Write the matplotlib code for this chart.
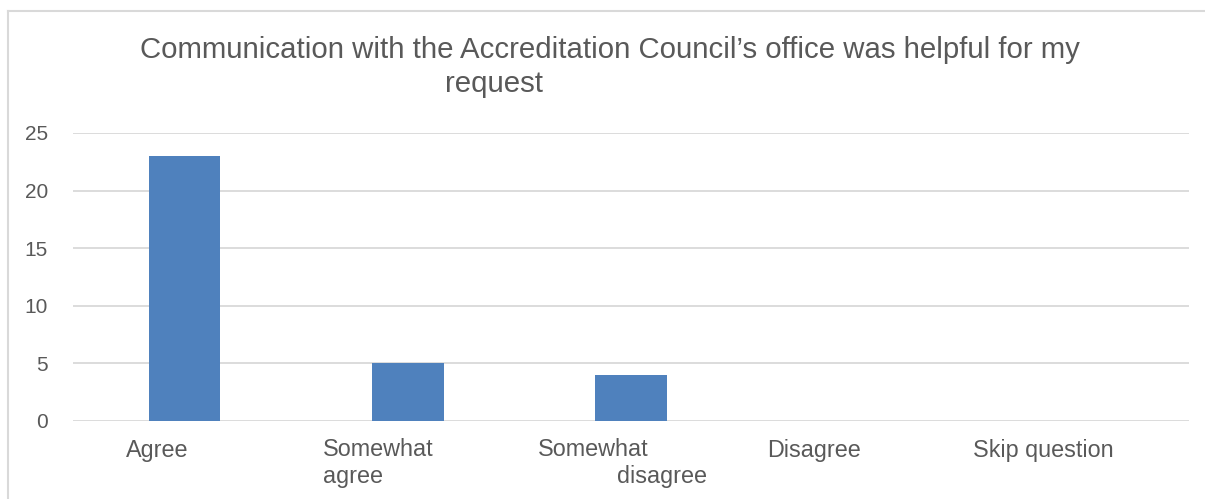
import matplotlib.pyplot as plt
import matplotlib.transforms as mtransforms
from matplotlib.lines import Line2D

plt.rcParams['font.family'] = ['Liberation Sans', 'DejaVu Sans']

categories = ["Agree", "Somewhat agree", "Somewhat disagree", "Disagree", "Skip question"]
counts = [23, 5, 4, 0, 0]
y_ticks = [0, 5, 10, 15, 20, 25]

# category labels as laid out under the axis: list of (text, x offset px, alignment) per line
label_layout = [
    [("Agree", -27, "center")],
    [("Somewhat", -85, "left"), ("agree", -85, "left")],
    [("Somewhat", -93, "left"), ("disagree", -14, "left")],
    [("Disagree", -40, "center")],
    [("Skip question", -34, "center")],
]

TEXT = "#595959"
GRID = "#d9d9d9"
BAR = "#4f81bd"

fig = plt.figure(figsize=(12.05, 4.99), dpi=100)
ax = fig.add_axes([73 / 1205, 1 - 421 / 499, (1189 - 73) / 1205, (421 - 133) / 499])

x = list(range(len(categories)))
ax.bar(x, counts, width=0.32, color=BAR, zorder=2)

ax.set_xlim(-0.5, len(categories) - 0.5)
ax.set_ylim(0, 25)
ax.set_yticks(y_ticks)
ax.yaxis.grid(True, color=GRID, linewidth=1.3, zorder=0)
ax.tick_params(axis="y", length=0, labelsize=15, labelcolor=TEXT, pad=18)
ax.set_xticks([])
for s in ax.spines.values():
    s.set_visible(False)

trans = ax.get_xaxis_transform()
for i, lines in enumerate(label_layout):
    for j, (line, dx, ha) in enumerate(lines):
        t = mtransforms.offset_copy(trans, fig=fig, x=dx, y=-29 - 27 * j, units="dots")
        ax.text(i, 0, line, transform=t, ha=ha, va="center", fontsize=16.8, color=TEXT)

fig.text(610 / 1205, 1 - 50 / 499,
         "Communication with the Accreditation Council\u2019s office was helpful for my",
         ha="center", va="center", fontsize=21.2, color=TEXT)
fig.text(494 / 1205, 1 - 84 / 499, "request",
         ha="center", va="center", fontsize=21.2, color=TEXT)

# frame lines along the top and left edge
fig.add_artist(Line2D([8 / 1205, 1], [1 - 11 / 499, 1 - 11 / 499], color=GRID, linewidth=1.5))
fig.add_artist(Line2D([8 / 1205, 8 / 1205], [0, 1 - 11 / 499], color=GRID, linewidth=1.5))

fig.savefig("out.png", dpi=100)
